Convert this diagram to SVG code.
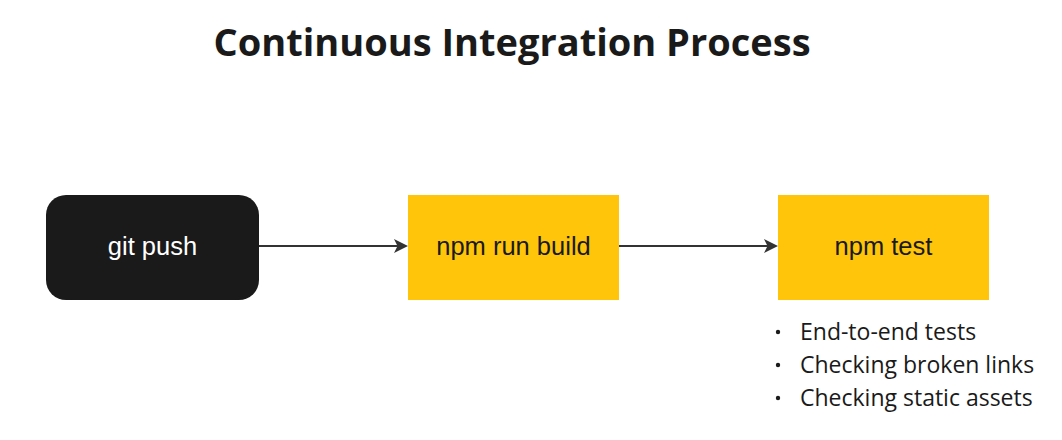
<svg xmlns="http://www.w3.org/2000/svg" width="1062" height="440" viewBox="0 0 1062 440">
<style>
.title{font-family:"Open Sans",sans-serif;font-weight:700;font-size:38px;fill:#1a1a1a}
.lbl{font-family:"Liberation Sans",Arial,sans-serif;font-size:25.5px;text-anchor:middle}
.yel{fill:#FFC50A}
.bul{font-family:"Open Sans",sans-serif;font-size:23px;fill:#1a1a1a}
.conn{stroke:#333;stroke-width:2;fill:none}
</style>
<defs>
<marker id="ah" markerWidth="14" markerHeight="14" refX="12" refY="7" orient="auto" markerUnits="userSpaceOnUse">
<path d="M0,0 L14,7 L0,14 L3.5,7 Z" fill="#333"/>
</marker>
</defs>
<rect width="1062" height="440" fill="#fff"/>
<text class="title" x="512" y="56" text-anchor="middle">Continuous Integration Process</text>
<g id="connectors">
<line class="conn" x1="259" y1="246" x2="406" y2="246" marker-end="url(#ah)"/>
<line class="conn" x1="619" y1="246" x2="776" y2="246" marker-end="url(#ah)"/>
</g>
<g id="git-push">
<rect x="46" y="195" width="213" height="105" rx="20" fill="#1a1a1a"/>
<text class="lbl" x="152.5" y="255" fill="#fff">git push</text>
</g>
<g id="npm-run-build">
<rect class="yel" x="408" y="195" width="211" height="105"/>
<text class="lbl" x="513.5" y="255" fill="#1a1a1a">npm run build</text>
</g>
<g id="npm-test">
<rect class="yel" x="778" y="195" width="211" height="105"/>
<text class="lbl" x="883.5" y="255" fill="#1a1a1a">npm test</text>
</g>
<g id="test-list">
<circle cx="778" cy="332" r="2.2" fill="#1a1a1a"/>
<circle cx="778" cy="365" r="2.2" fill="#1a1a1a"/>
<circle cx="778" cy="398" r="2.2" fill="#1a1a1a"/>
<text class="bul" x="800" y="340">End-to-end tests</text>
<text class="bul" x="800" y="373">Checking broken links</text>
<text class="bul" x="800" y="406">Checking static assets</text>
</g>
</svg>
